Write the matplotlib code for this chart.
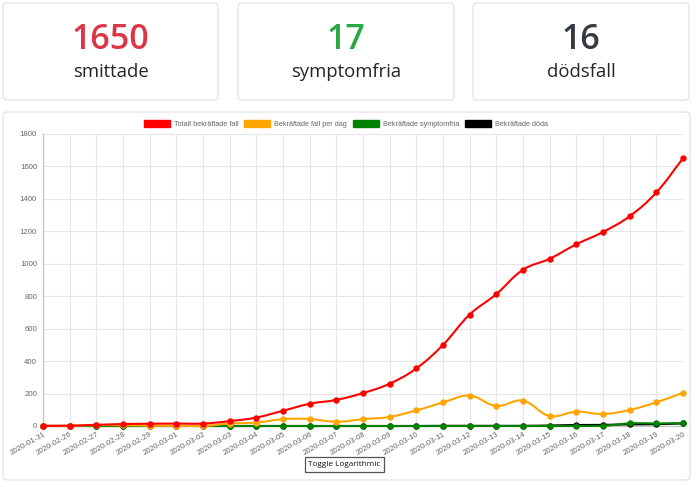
import numpy as np
import matplotlib
matplotlib.use("Agg")
import matplotlib.pyplot as plt
import matplotlib.transforms as mtransforms
from matplotlib.path import Path
from matplotlib.patches import PathPatch, Rectangle, FancyBboxPatch

# data
dates = ["2020-01-31", "2020-02-26", "2020-02-27", "2020-02-28", "2020-02-29",
         "2020-03-01", "2020-03-02", "2020-03-03", "2020-03-04", "2020-03-05",
         "2020-03-06", "2020-03-07", "2020-03-08", "2020-03-09", "2020-03-10",
         "2020-03-11", "2020-03-12", "2020-03-13", "2020-03-14", "2020-03-15",
         "2020-03-16", "2020-03-17", "2020-03-18", "2020-03-19", "2020-03-20"]
total_cases = [1, 2, 7, 12, 14, 15, 15, 30, 52, 94, 137, 161, 203, 261, 355,
               500, 687, 813, 963, 1031, 1120, 1196, 1293, 1440, 1650]
daily_cases = [1, 1, 5, 5, 2, 1, 0, 15, 21, 42, 43, 26, 42, 56, 96,
               145, 187, 124, 156, 62, 88, 74, 99, 146, 205]
recovered = [0, 0, 0, 0, 0, 0, 0, 0, 0, 0, 0, 0, 0, 0, 0,
             0, 0, 0, 0, 0, 0, 1, 16, 16, 17]
deaths = [0, 0, 0, 0, 0, 0, 0, 0, 0, 0, 0, 0, 0, 0, 0,
          1, 1, 1, 1, 3, 6, 7, 10, 11, 16]

series_labels = ["Totalt bekräftade fall", "Bekräftade fall per dag",
                 "Bekräftade symptomfria", "Bekräftade döda"]
series_colors = ["red", "orange", "green", "black"]

card_values = ["1650", "17", "16"]
card_labels = ["smittade", "symptomfria", "dödsfall"]
card_colors = ["#dc3545", "#28a745", "#343a40"]

W, H = 700, 487
fig = plt.figure(figsize=(W / 100, H / 100), dpi=100)
fig.patch.set_facecolor("white")


def frac(x0, y0, x1, y1):
    return [x0 / W, 1 - y1 / H, (x1 - x0) / W, (y1 - y0) / H]


# background layer in pixel coords for the cards and the button
bg = fig.add_axes([0, 0, 1, 1])
bg.set_xlim(0, W)
bg.set_ylim(H, 0)
bg.axis("off")

card_boxes = [(3, 3, 218, 100), (238, 3, 454, 100), (473, 3, 689, 100)]
for (x0, y0, x1, y1), val, lab, col in zip(card_boxes, card_values, card_labels, card_colors):
    bg.add_patch(FancyBboxPatch((x0, y0), x1 - x0, y1 - y0,
                                boxstyle="round,pad=0,rounding_size=4",
                                fc="white", ec="#dfdfdf", lw=0.8))
    cx = (x0 + x1) / 2
    bg.text(cx, 40, val, color=col, fontsize=24.5, family="Open Sans",
            weight=600, ha="center", va="center")
    bg.text(cx, 72, lab, color="#212529", fontsize=13.3, family="Open Sans",
            weight=500, ha="center", va="center")

bg.add_patch(FancyBboxPatch((3, 112), 687, 368,
                            boxstyle="round,pad=0,rounding_size=4",
                            fc="white", ec="#dfdfdf", lw=0.8))

# toggle button
bg.add_patch(Rectangle((305, 457), 79, 15, fc="white", ec="#555555", lw=0.9))
bg.text(344.5, 464.5, "Toggle Logarithmic", fontsize=5.9, family="Open Sans",
        color="#111111", ha="center", va="center")

# chart area
ax = fig.add_axes(frac(43, 134, 683, 426))
ax.set_facecolor("none")
n = len(dates)
x = np.arange(n)
ax.set_xlim(0, n - 1)
ax.set_ylim(0, 1800)
ax.set_yticks(np.arange(0, 1801, 200))
ax.set_xticks(x)
ax.set_xticklabels(dates)
ax.grid(True, color="#e6e6e6", lw=0.8)
ax.set_axisbelow(True)
for s in ["top", "right"]:
    ax.spines[s].set_visible(False)
for s in ["left", "bottom"]:
    ax.spines[s].set_color("#c4c4c4")
    ax.spines[s].set_linewidth(0.9)
ax.tick_params(length=0, labelsize=5.6, labelcolor="#666666")
ax.tick_params(axis="y", pad=4.3)
ax.tick_params(axis="x", pad=5.5)
for lbl in ax.get_yticklabels() + ax.get_xticklabels():
    lbl.set_family("Liberation Sans")
offset = mtransforms.ScaledTranslation(2 / 100, 0, fig.dpi_scale_trans)
for lbl in ax.get_xticklabels():
    lbl.set_rotation(30)
    lbl.set_ha("right")
    lbl.set_va("center")
    lbl.set_rotation_mode("anchor")
    lbl.set_transform(lbl.get_transform() + offset)

# px per data unit, used for the spline control points like Chart.js does
sx = 640 / (n - 1)
sy = 292 / 1800


def spline_path(xs, ys, tension=0.4):
    px = np.asarray(xs, float) * sx
    py = np.asarray(ys, float) * sy
    m = len(px)
    cp_prev = np.zeros((m, 2))
    cp_next = np.zeros((m, 2))
    for i in range(m):
        p = np.array([px[i], py[i]])
        a = np.array([px[max(i - 1, 0)], py[max(i - 1, 0)]])
        b = np.array([px[min(i + 1, m - 1)], py[min(i + 1, m - 1)]])
        d01 = np.hypot(*(p - a))
        d12 = np.hypot(*(b - p))
        tot = d01 + d12
        s01 = d01 / tot if tot else 0
        s12 = d12 / tot if tot else 0
        cp_prev[i] = p - tension * s01 * (b - a)
        cp_next[i] = p + tension * s12 * (b - a)
    cp_prev[:, 1] = np.clip(cp_prev[:, 1], 0, 292)
    cp_next[:, 1] = np.clip(cp_next[:, 1], 0, 292)
    verts = [(px[0], py[0])]
    codes = [Path.MOVETO]
    for i in range(m - 1):
        verts += [tuple(cp_next[i]), tuple(cp_prev[i + 1]), (px[i + 1], py[i + 1])]
        codes += [Path.CURVE4] * 3
    verts = np.array(verts) / np.array([sx, sy])
    return Path(verts, codes)


all_series = [total_cases, daily_cases, recovered, deaths]
for k in range(len(all_series) - 1, -1, -1):
    z = 10 - k
    col = series_colors[k]
    ax.add_patch(PathPatch(spline_path(x, all_series[k]), fill=False,
                           ec=col, lw=1.5, zorder=z, clip_on=False))
    ax.plot(x, all_series[k], "o", ls="none", color=col, ms=3.6,
            zorder=z, clip_on=False)

handles = [Rectangle((0, 0), 1, 1, fc=c, ec=c) for c in series_colors]
ax.legend(handles, series_labels, ncol=4, loc="center",
          bbox_to_anchor=(346, 124.3), bbox_transform=bg.transData,
          frameon=False, labelcolor="#666666",
          handlelength=3.55, handleheight=1.1, handletextpad=0.55,
          columnspacing=0.8, borderpad=0, borderaxespad=0,
          prop={"family": "Liberation Sans", "size": 5.25})

fig.savefig("out.png", dpi=100)
